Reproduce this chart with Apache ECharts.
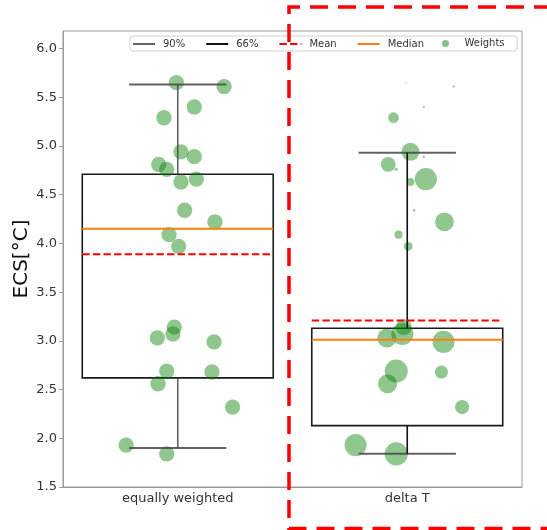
<!DOCTYPE html>
<html>
<head>
<meta charset="utf-8">
<script src="https://cdn.jsdelivr.net/npm/echarts@6/dist/echarts.min.js"></script>
<style>
  html, body { margin: 0; padding: 0; background: #fff; }
  #chart { width: 547px; height: 530px; }
</style>
</head>
<body>
<div id="chart"></div>
<script>
// Weighting schemes shown on the x axis
const categories = ['equally weighted', 'delta T'];
const yTicks = [1.5, 2.0, 2.5, 3.0, 3.5, 4.0, 4.5, 5.0, 5.5, 6.0];

// Weighted percentile ranges, mean and median per scheme (°C)
const range90Low = [1.90, 1.84];
const range90High = [5.63, 4.93];
const range66Low = [2.62, 2.13];
const range66High = [4.71, 3.13];
const meanValues = [3.89, 3.21];
const medianValues = [4.15, 3.01];

// Model ECS values and their horizontal jitter (fraction of a category band)
const modelEcs = [5.65, 5.61, 5.40, 5.29, 4.94, 4.89, 4.81, 4.76, 4.63, 4.66, 4.34, 4.22,
                  4.09, 3.97, 3.14, 3.07, 3.03, 2.99, 2.69, 2.68, 2.56, 2.32, 1.93, 1.84];
const modelJitter = [-0.006, 0.202, 0.072, -0.060, 0.014, 0.072, -0.083, -0.048, 0.014, 0.081, 0.030, 0.162,
                     -0.038, 0.004, -0.015, -0.021, -0.089, 0.158, -0.048, 0.149, -0.086, 0.239, -0.225, -0.048];

// Model weights (each scheme sums to 1)
const equalWeights = [0.0417, 0.0417, 0.0417, 0.0417, 0.0417, 0.0417, 0.0417, 0.0417, 0.0417, 0.0417, 0.0417, 0.0417,
                      0.0417, 0.0417, 0.0417, 0.0417, 0.0417, 0.0417, 0.0417, 0.0417, 0.0417, 0.0417, 0.0417, 0.0417];
const deltaTWeights = [0.0002, 0.0008, 0.0008, 0.0205, 0.0581, 0.0011, 0.0387, 0.0016, 0.0115, 0.0868, 0.0011, 0.0627,
                       0.0115, 0.0136, 0.0459, 0.0868, 0.0647, 0.0868, 0.0949, 0.0303, 0.0647, 0.0351, 0.0868, 0.0949];

const FONT = 'DejaVu Sans';
const MARKER_SCALE = 75;          // marker diameter = scale * sqrt(weight)
const BOX_HALF = 0.416;           // half width of box, fraction of band
const CAP_HALF = 0.212;           // half width of whisker caps
const stemColors = ['rgba(70,70,70,0.85)', '#111'];

const chart = echarts.init(document.getElementById('chart'), null, { renderer: 'canvas' });

function pointsFor(catIndex, weights) {
  return modelEcs.map((v, k) => [catIndex + modelJitter[k], v, weights[k]]);
}

function hLine(x1, x2, y, style) {
  return { type: 'line', shape: { x1: x1, y1: y, x2: x2, y2: y }, style: style };
}

const option = {
  animation: false,
  backgroundColor: '#fff',
  textStyle: { fontFamily: FONT },
  grid: {
    left: 63, right: 25, top: 31, bottom: 43,
    show: true, borderColor: '#9a9a9a', borderWidth: 1, backgroundColor: 'transparent'
  },
  xAxis: [{
    type: 'category',
    data: categories,
    axisLine: { onZero: false, lineStyle: { color: '#9a9a9a', width: 1 } },
    axisTick: { alignWithLabel: true, length: 4, lineStyle: { color: '#9a9a9a' } },
    axisLabel: { fontFamily: FONT, fontSize: 13, color: '#333', margin: 5 },
    splitLine: { show: false }
  }, {
    type: 'value', min: -0.5, max: 1.5, show: false
  }],
  yAxis: {
    type: 'value',
    min: 1.5, max: 6.18,
    name: 'ECS[°C]',
    nameLocation: 'middle',
    nameGap: 31,
    nameMoveOverlap: false,
    nameTextStyle: { fontFamily: FONT, fontSize: 20, color: '#111' },
    axisLine: { show: true, onZero: false, lineStyle: { color: '#9a9a9a', width: 1 } },
    axisTick: { show: true, length: 4, lineStyle: { color: '#9a9a9a' }, customValues: yTicks },
    axisLabel: {
      fontFamily: FONT, fontSize: 13, color: '#333', margin: 6,
      customValues: yTicks,
      formatter: v => v.toFixed(1)
    },
    splitLine: { show: false }
  },
  legend: [{
    left: 130, top: 36,
    itemWidth: 22, itemHeight: 2, itemGap: 21,
    padding: [3, 93, 2, 3],
    backgroundColor: '#fff', borderColor: '#d0d0d0', borderWidth: 1, borderRadius: 3,
    textStyle: { fontFamily: FONT, fontSize: 10, color: '#333', padding: [0, 0, 0, 3] },
    data: [
      { name: '90%', icon: 'rect', itemStyle: { color: '#666' } },
      { name: '66%', icon: 'rect', itemStyle: { color: '#111' } },
      { name: 'Mean', icon: 'path://M0,0H7.4V2H0Z M10.6,0H18V2H10.6Z M21.2,0H22V2H21.2Z', itemStyle: { color: '#ff0000' } },
      { name: 'Median', icon: 'rect', itemStyle: { color: '#ff7f0e' } }
    ],
    z: 10
  }, {
    left: 442, top: 38.5,
    itemWidth: 22, itemHeight: 7,
    padding: 0,
    textStyle: { fontFamily: FONT, fontSize: 10, color: '#333', padding: [0, 0, 0, 3] },
    data: [{ name: 'Weights', icon: 'circle', itemStyle: { color: 'rgba(0,128,0,0.6)' } }],
    z: 11
  }],
  series: [
    {
      name: 'Weights', type: 'scatter', xAxisIndex: 1, yAxisIndex: 0, z: 2,
      data: pointsFor(0, equalWeights),
      symbolSize: v => MARKER_SCALE * Math.sqrt(v[2]),
      itemStyle: { color: 'rgba(0,128,0,0.55)' },
      emphasis: { disabled: true }
    },
    {
      name: 'Weights', type: 'scatter', xAxisIndex: 1, yAxisIndex: 0, z: 2,
      data: pointsFor(1, deltaTWeights),
      symbolSize: v => MARKER_SCALE * Math.sqrt(v[2]),
      itemStyle: { color: 'rgba(0,128,0,0.55)' },
      emphasis: { disabled: true }
    },
    {
      name: '66%', type: 'custom', z: 1,
      itemStyle: { color: '#111' },
      encode: { x: 0, y: [1, 2] },
      data: categories.map((c, i) => [i, range66Low[i], range66High[i]]),
      renderItem(params, api) {
        const i = api.value(0);
        const band = api.size([1, 0])[0];
        const lo = api.coord([i, api.value(1)]);
        const hi = api.coord([i, api.value(2)]);
        const half = band * BOX_HALF;
        return {
          type: 'rect',
          shape: { x: lo[0] - half, y: hi[1], width: half * 2, height: lo[1] - hi[1] },
          style: { fill: 'none', stroke: '#1a1a1a', lineWidth: 1.6 }
        };
      }
    },
    {
      name: '90%', type: 'custom', z: 3,
      itemStyle: { color: '#666' },
      encode: { x: 0, y: [1, 2] },
      data: categories.map((c, i) => [i, range90Low[i], range90High[i], range66Low[i], range66High[i]]),
      renderItem(params, api) {
        const i = api.value(0);
        const band = api.size([1, 0])[0];
        const lo = api.coord([i, api.value(1)]);
        const hi = api.coord([i, api.value(2)]);
        const bLo = api.coord([i, api.value(3)]);
        const bHi = api.coord([i, api.value(4)]);
        const half = band * CAP_HALF;
        const capStyle = { stroke: 'rgba(70,70,70,0.85)', lineWidth: 2 };
        const stemStyle = { stroke: stemColors[params.dataIndex], lineWidth: 1.6 };
        return {
          type: 'group',
          children: [
            hLine(hi[0] - half, hi[0] + half, hi[1], capStyle),
            hLine(lo[0] - half, lo[0] + half, lo[1], capStyle),
            { type: 'line', shape: { x1: hi[0], y1: hi[1], x2: hi[0], y2: bHi[1] }, style: stemStyle },
            { type: 'line', shape: { x1: lo[0], y1: bLo[1], x2: lo[0], y2: lo[1] }, style: stemStyle }
          ]
        };
      }
    },
    {
      name: 'Mean', type: 'custom', z: 4,
      itemStyle: { color: '#ff0000' },
      encode: { x: 0, y: 1 },
      data: categories.map((c, i) => [i, meanValues[i]]),
      renderItem(params, api) {
        const i = api.value(0);
        const band = api.size([1, 0])[0];
        const p = api.coord([i, api.value(1)]);
        const half = band * BOX_HALF;
        return hLine(p[0] - half, p[0] + half, p[1],
          { stroke: '#ff0000', lineWidth: 2, lineDash: [7.4, 3.2] });
      }
    },
    {
      name: 'Median', type: 'custom', z: 4,
      itemStyle: { color: '#ff7f0e' },
      encode: { x: 0, y: 1 },
      data: categories.map((c, i) => [i, medianValues[i]]),
      renderItem(params, api) {
        const i = api.value(0);
        const band = api.size([1, 0])[0];
        const p = api.coord([i, api.value(1)]);
        const half = band * BOX_HALF;
        return hLine(p[0] - half, p[0] + half, p[1], { stroke: '#ff7f0e', lineWidth: 2 });
      }
    }
  ],
  // Highlight frame around the weighted scheme
  graphic: [{
    type: 'polyline',
    z: 100,
    silent: true,
    shape: { points: [[580, 7], [289, 7], [289, 528.5], [600, 528.5]] },
    style: { fill: 'none', stroke: '#ff0000', lineWidth: 3.5, lineDash: [18, 10] }
  }]
};

chart.setOption(option);
</script>
</body>
</html>
